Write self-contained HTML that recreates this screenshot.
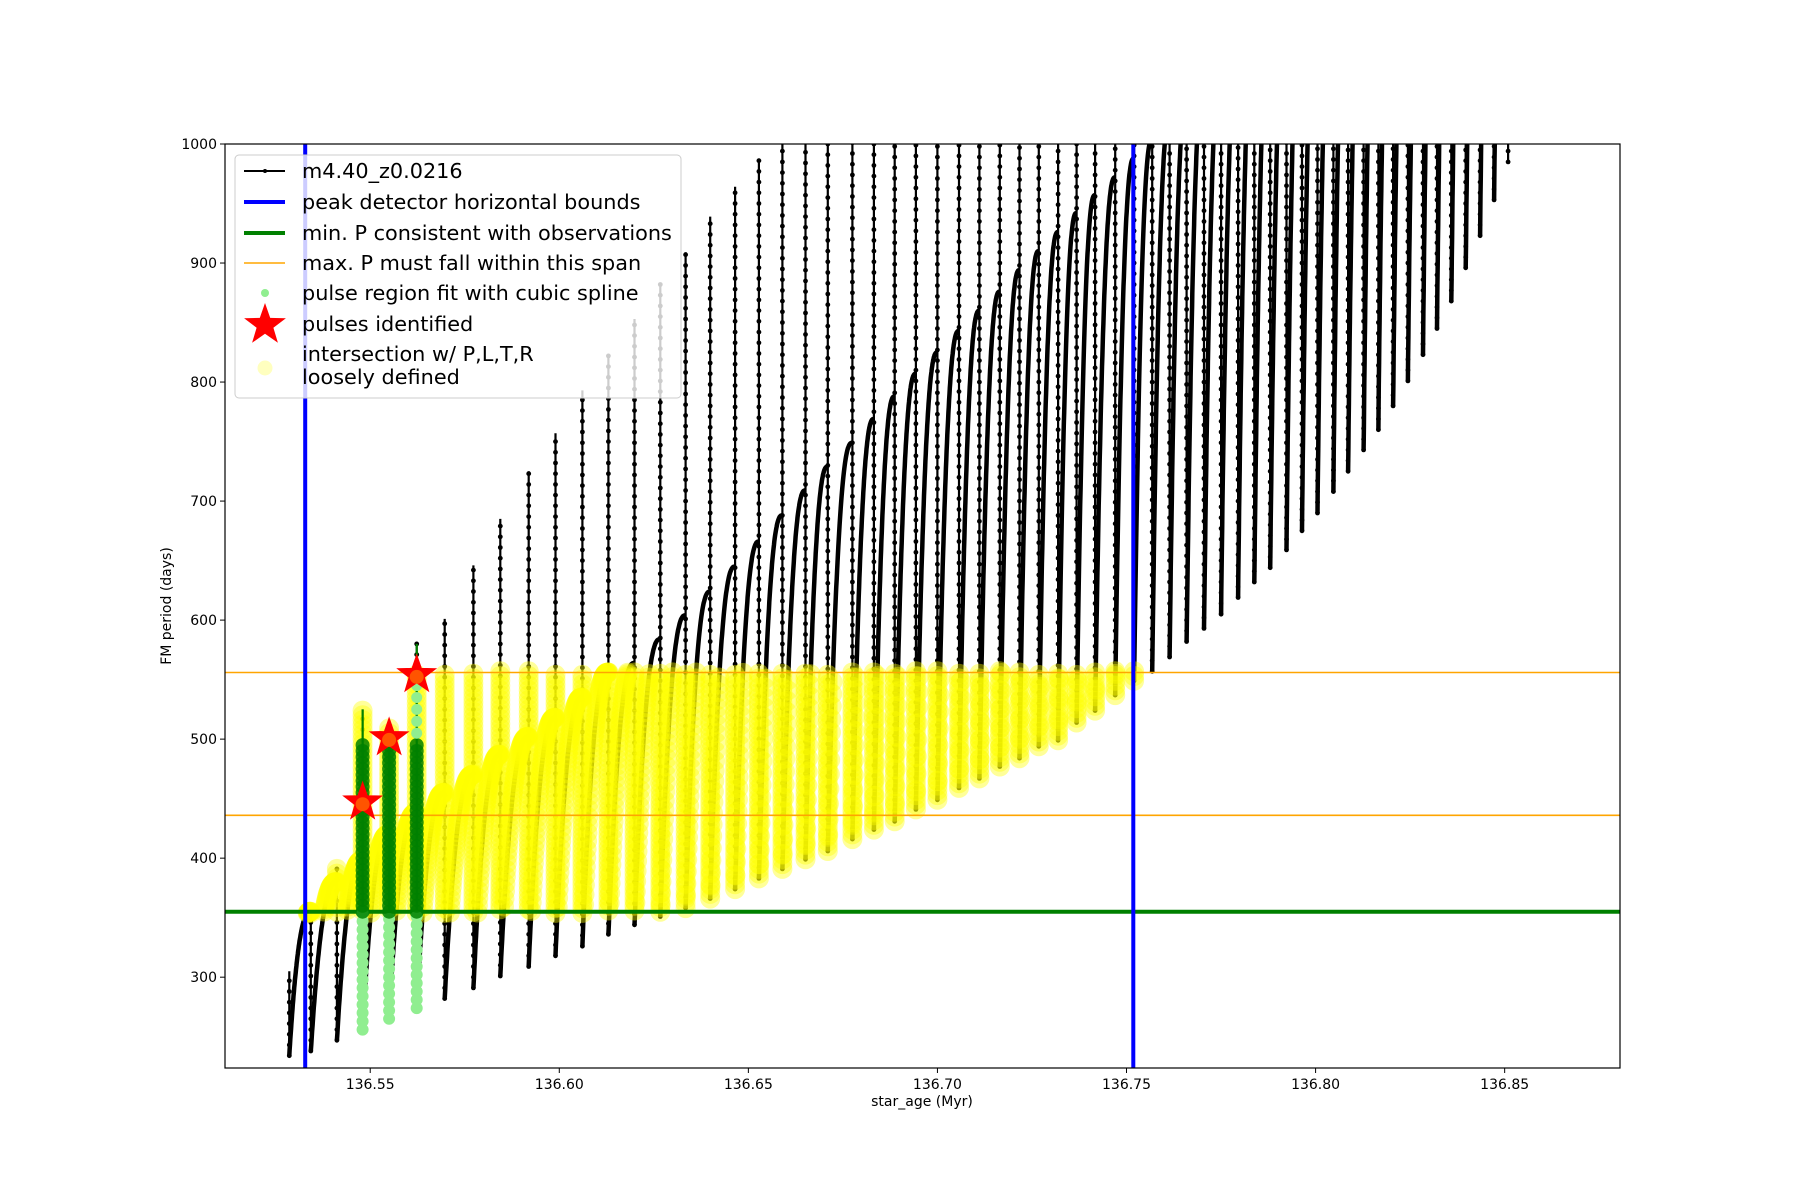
<!DOCTYPE html>
<html><head><meta charset="utf-8"><title>FM period vs star age</title>
<style>
html,body{margin:0;padding:0;background:#fff;}
svg{display:block;font-family:"DejaVu Sans","Liberation Sans",sans-serif;}
</style></head>
<body>
<svg id="chart" width="1800" height="1200" viewBox="0 0 1800 1200">
<defs><clipPath id="plotclip"><rect x="225" y="144" width="1395" height="924"/></clipPath></defs>
<rect x="0" y="0" width="1800" height="1200" fill="#fff"/>
<g id="plot" clip-path="url(#plotclip)"></g>
<rect x="225" y="144" width="1395" height="924" fill="none" stroke="#000" stroke-width="1.2"/>
<g id="xticks"></g>
<g id="yticks"></g>
<text x="922" y="1106" font-size="14" text-anchor="middle">star_age (Myr)</text>
<text x="0" y="0" font-size="14" text-anchor="middle" transform="translate(171,606) rotate(-90)">FM period (days)</text>
<g id="legend">
<rect x="235" y="155" width="446" height="243" rx="4" fill="#fff" fill-opacity="0.8" stroke="#ccc" stroke-width="1"/>
<g><line x1="244" y1="171" x2="285" y2="171" stroke="#000" stroke-width="2"/><circle cx="265" cy="171" r="2" fill="#000"/><text x="302" y="178" font-size="20.8">m4.40_z0.0216</text></g>
<g><line x1="244" y1="202" x2="285" y2="202" stroke="#0000ff" stroke-width="4"/><text x="302" y="209" font-size="20.8">peak detector horizontal bounds</text></g>
<g><line x1="244" y1="233" x2="285" y2="233" stroke="#008000" stroke-width="4"/><text x="302" y="240" font-size="20.8">min. P consistent with observations</text></g>
<g><line x1="244" y1="263" x2="285" y2="263" stroke="#ffa500" stroke-width="1.5"/><text x="302" y="270" font-size="20.8">max. P must fall within this span</text></g>
<g><circle cx="265" cy="293" r="4" fill="#90ee90"/><text x="302" y="300" font-size="20.8">pulse region fit with cubic spline</text></g>
<g><path id="legstar" fill="#ff0000"/><text x="302" y="331" font-size="20.8">pulses identified</text></g>
<g><circle cx="265" cy="368" r="7.5" fill="#ffff00" fill-opacity="0.25"/><text x="302" y="361" font-size="20.8">intersection w/ P,L,T,R</text><text x="302" y="384" font-size="20.8">loosely defined</text></g>
</g>
</svg>
<script>
// ---- data ----
const pulseTimes = [136.5286,136.5343,136.5412,136.5480,136.5550,136.5623,136.5697,136.5773,136.5844,136.5919,136.5990,136.6061,136.6130,136.6199,136.6267,136.6334,136.6399,136.6465,136.6528,136.6590,136.6651,136.6710,136.6775,136.6832,136.6887,136.6943,136.7000,136.7057,136.7111,136.7165,136.7217,136.7268,136.7319,136.7368,136.7417,136.7470,136.7520,136.7568,136.7614,136.7659,136.7705,136.7750,136.7795,136.7838,136.7880,136.7923,136.7964,136.8005,136.8047,136.8086,136.8127,136.8166,136.8205,136.8244,136.8284,136.8321,136.8359,136.8397,136.8435,136.8472,136.8509];
const pulseMins = [234,238,247,256,265,274,282,291,301,309,318,326,336,344,351,358,366,374,383,391,399,406,416,424,431,441,449,459,467,477,484,494,499,514,524,537,549,557,569,582,593,605,619,632,644,659,675,690,708,725,743,760,780,801,823,845,868,896,923,953,985];
const pulseTops = [305,355,392,525,512,580,601,646,685,725,757,793,823,853,883,909,939,964,986,1100,1100,1100,1100,1100,1100,1100,1100,1100,1100,1100,1100,1100,1100,1100,1100,1100,1100,1100,1100,1100,1100,1100,1100,1100,1100,1100,1100,1100,1100,1100,1100,1100,1100,1100,1100,1100,1100,1100,1100,1100,995];
const arcPeaks = [null,355,380,398,420,438,455,470,487,502,518,535,556,564,584,604,624,645,666,688,709,729,749,769,788,807,825,843,860,876,894,910,926,942,957,972,988,1004,1020,1036,1052,1068,1084,1100,1116,1132,1148,1164,1180,1196,1212,1228,1244,1260,1276,1292,1308,1324,1340,1356,1372];
const starPulseIdx = [3,4,5];
const starPeriods = [447,501,554];
const greenPulseIdx = [3,4,5];
const greenTopPeriods = [495,495,495];
const minPeriod = 355;
const maxPeriodSpan = [436,556];
const boundTimes = [136.5328,136.7518];
const xTicks = [136.55,136.60,136.65,136.70,136.75,136.80,136.85];
const xTickLabels = ["136.55","136.60","136.65","136.70","136.75","136.80","136.85"];
const yTicks = [300,400,500,600,700,800,900,1000];
const yTickLabels = ["300","400","500","600","700","800","900","1000"];
const xDomain = [136.5116,136.8805];
const yDomain = [223.7,1000];

// ---- axes ----
const L=225,R=1620,T=144,B=1068;
function X(t){return L+(t-xDomain[0])/(xDomain[1]-xDomain[0])*(R-L);}
function Y(v){return T+(yDomain[1]-v)/(yDomain[1]-yDomain[0])*(B-T);}
const NS='http://www.w3.org/2000/svg';
function mk(tag,attrs,parent){const e=document.createElementNS(NS,tag);for(const k in attrs)e.setAttribute(k,attrs[k]);parent.appendChild(e);return e;}
const plot=document.getElementById('plot');

const arcPts=[];
const spikePts=[];
let spikeD='', arcD='';
for(let i=0;i<pulseTimes.length;i++){
  const t=pulseTimes[i];
  const top=pulseTops[i], mn=pulseMins[i];
  const start = arcPeaks[i]!==null?arcPeaks[i]:mn;
  spikeD += 'M'+X(t).toFixed(1)+' '+Y(Math.max(top,start)).toFixed(1)+' L'+X(t).toFixed(1)+' '+Y(mn).toFixed(1)+' ';
  for(let v=mn; v<=Math.max(top,start); v+=4) spikePts.push([t,v,i]);
  if(i<pulseTimes.length-1 && arcPeaks[i+1]!==null){
    const t2=pulseTimes[i+1], pk=arcPeaks[i+1];
    const n=60;
    arcD+='M'+X(t).toFixed(1)+' '+Y(mn).toFixed(1);
    for(let k=1;k<=n;k++){
      const u=k/n;
      const f=1-Math.pow(1-u,2.4);
      const tt=t+(t2-t)*u*0.985;
      const vv=mn+(pk-mn)*f;
      arcPts.push([tt,vv]);
      arcD+=' L'+X(tt).toFixed(1)+' '+Y(vv).toFixed(1);
    }
    arcD+=' L'+X(t2).toFixed(1)+' '+Y(pk).toFixed(1)+' ';
  }
}
const arcs=mk('path',{d:arcD,fill:'none',stroke:'#000','stroke-width':4.5,'stroke-linejoin':'round'},plot);


const spikes=mk('path',{d:spikeD,fill:'none',stroke:'#000','stroke-width':2.2},plot);



const dotG=mk('g',{fill:'#000'},plot);


for(let i=0;i<pulseTimes.length;i++){
  const top=Math.min(pulseTops[i],1005);
  for(let v=pulseMins[i]; v<=top; v+=9){
    mk('circle',{cx:X(pulseTimes[i]).toFixed(1),cy:Y(v).toFixed(1),r:2.4},dotG);
  }
}

const yelG=mk('g',{fill:'#ffff00','fill-opacity':0.4},plot);


function inWin(t,v){return v>=minPeriod-1 && v<=maxPeriodSpan[1]+1 && t>=boundTimes[0]-0.0008 && t<=boundTimes[1]+0.0008;}
arcPts.forEach(p=>{ if(inWin(p[0],p[1])) mk('circle',{cx:X(p[0]).toFixed(1),cy:Y(p[1]).toFixed(1),r:10},yelG);});
spikePts.forEach(p=>{ if(inWin(p[0],p[1]) && p[1]<=Math.max(pulseTops[p[2]],arcPeaks[p[2]]||0)) mk('circle',{cx:X(p[0]).toFixed(1),cy:Y(p[1]).toFixed(1),r:10},yelG);});

const hl=(v,col,w,name)=>{const l=mk('line',{x1:L,x2:R,y1:Y(v).toFixed(1),y2:Y(v).toFixed(1),stroke:col,'stroke-width':w},plot);};
hl(maxPeriodSpan[0],'#ffa500',1.6,'max-p-lower-line');
hl(maxPeriodSpan[1],'#ffa500',1.6,'max-p-upper-line');
hl(minPeriod,'#008000',4,'min-p-line');
boundTimes.forEach((bt,k)=>{const l=mk('line',{x1:X(bt).toFixed(1),x2:X(bt).toFixed(1),y1:T,y2:B,stroke:'#0000ff','stroke-width':4},plot);});

const grG=mk('g',{},plot);


greenPulseIdx.forEach((pi,k)=>{
  const x=X(pulseTimes[pi]);
  mk('line',{x1:x,x2:x,y1:Y(minPeriod),y2:Y(pulseTops[pi]),stroke:'#008000','stroke-width':2.2},grG);
  for(let v=pulseMins[pi]; v<minPeriod; v+=7){mk('circle',{cx:x.toFixed(1),cy:Y(v).toFixed(1),r:6,fill:'#90ee90'},grG);}
  for(let v=minPeriod; v<=greenTopPeriods[k]; v+=5){mk('circle',{cx:x.toFixed(1),cy:Y(v).toFixed(1),r:7,fill:'#008000','fill-opacity':0.85},grG);}
});
for(let v=505; v<=545; v+=10){mk('circle',{cx:X(pulseTimes[5]).toFixed(1),cy:Y(v).toFixed(1),r:5.5,fill:'#90ee90'},grG);}

function starPath(cx,cy,ro){const ri=ro*0.4;let d='';for(let k=0;k<10;k++){const r=k%2?ri:ro;const a=-Math.PI/2+k*Math.PI/5;d+=(k?'L':'M')+(cx+r*Math.cos(a)).toFixed(1)+' '+(cy+r*Math.sin(a)).toFixed(1);}return d+'Z';}
starPulseIdx.forEach((pi,k)=>{
  const s=mk('path',{d:starPath(X(pulseTimes[pi]),Y(starPeriods[k]),20),fill:'#ff0000',stroke:'#ff0000','stroke-width':1},plot);
  
  
  mk('circle',{cx:X(pulseTimes[pi]).toFixed(1),cy:(Y(starPeriods[k])+2).toFixed(1),r:7,fill:'#ff8c00','fill-opacity':0.6},plot);
});
document.getElementById('legstar').setAttribute('d',starPath(265,325,22));

const xg=document.getElementById('xticks'), yg=document.getElementById('yticks');
xTicks.forEach((t,i)=>{
  const x=X(t);
  mk('line',{x1:x,x2:x,y1:B,y2:B+5,stroke:'#000','stroke-width':1},xg);
  const tx=mk('text',{x:x,y:B+21,'font-size':14,'text-anchor':'middle'},xg);
  tx.textContent=xTickLabels[i];
  
  
});
yTicks.forEach((v,i)=>{
  const y=Y(v);
  mk('line',{x1:L-5,x2:L,y1:y,y2:y,stroke:'#000','stroke-width':1},yg);
  const tx=mk('text',{x:L-8,y:y+5,'font-size':14,'text-anchor':'end'},yg);
  tx.textContent=yTickLabels[i];
  
  
});
</script>
</body></html>
